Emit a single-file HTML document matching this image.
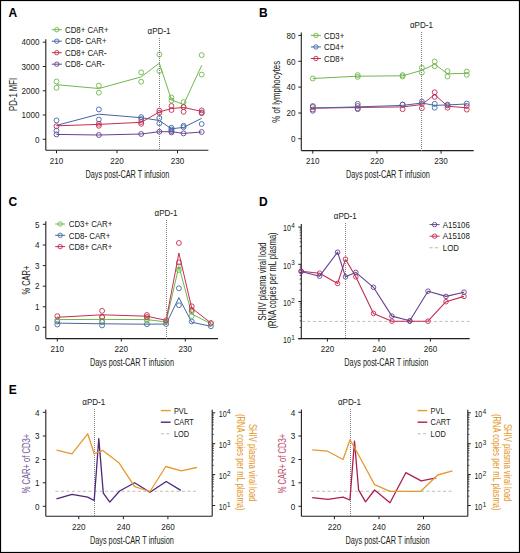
<!DOCTYPE html>
<html><head><meta charset="utf-8"><style>
html,body{margin:0;padding:0;background:#fff;}
svg{display:block;}
text{font-family:"Liberation Sans", sans-serif;}
</style></head><body>
<svg width="520" height="553" viewBox="0 0 520 553">
<rect width="520" height="553" fill="#fff"/>
<rect x="0.5" y="0.5" width="519" height="552" fill="none" stroke="#000" stroke-width="1.2"/>
<text x="8.60" y="17.20" font-size="12" text-anchor="start" fill="#000" stroke="#000" stroke-width="0.04" font-weight="bold" >A</text>
<line x1="45.80" y1="39.30" x2="45.80" y2="150.30" stroke="#231f20" stroke-width="1.1" />
<line x1="45.80" y1="150.30" x2="208.40" y2="150.30" stroke="#231f20" stroke-width="1.1" />
<line x1="42.80" y1="42.20" x2="45.80" y2="42.20" stroke="#231f20" stroke-width="1.0" />
<text x="39.50" y="45.40" font-size="9.3" text-anchor="end" fill="#231f20" stroke="#231f20" stroke-width="0.04" font-weight="normal" textLength="18.0" lengthAdjust="spacingAndGlyphs" >4000</text>
<line x1="42.80" y1="66.50" x2="45.80" y2="66.50" stroke="#231f20" stroke-width="1.0" />
<text x="39.50" y="69.70" font-size="9.3" text-anchor="end" fill="#231f20" stroke="#231f20" stroke-width="0.04" font-weight="normal" textLength="18.0" lengthAdjust="spacingAndGlyphs" >3000</text>
<line x1="42.80" y1="90.80" x2="45.80" y2="90.80" stroke="#231f20" stroke-width="1.0" />
<text x="39.50" y="94.00" font-size="9.3" text-anchor="end" fill="#231f20" stroke="#231f20" stroke-width="0.04" font-weight="normal" textLength="18.0" lengthAdjust="spacingAndGlyphs" >2000</text>
<line x1="42.80" y1="115.00" x2="45.80" y2="115.00" stroke="#231f20" stroke-width="1.0" />
<text x="39.50" y="118.20" font-size="9.3" text-anchor="end" fill="#231f20" stroke="#231f20" stroke-width="0.04" font-weight="normal" textLength="18.0" lengthAdjust="spacingAndGlyphs" >1000</text>
<line x1="42.80" y1="139.30" x2="45.80" y2="139.30" stroke="#231f20" stroke-width="1.0" />
<text x="39.50" y="142.50" font-size="9.3" text-anchor="end" fill="#231f20" stroke="#231f20" stroke-width="0.04" font-weight="normal" textLength="4.5" lengthAdjust="spacingAndGlyphs" >0</text>
<line x1="56.50" y1="150.30" x2="56.50" y2="153.30" stroke="#231f20" stroke-width="1.0" />
<text x="56.50" y="163.60" font-size="9.3" text-anchor="middle" fill="#231f20" stroke="#231f20" stroke-width="0.04" font-weight="normal" textLength="13.5" lengthAdjust="spacingAndGlyphs" >210</text>
<line x1="117.00" y1="150.30" x2="117.00" y2="153.30" stroke="#231f20" stroke-width="1.0" />
<text x="117.00" y="163.60" font-size="9.3" text-anchor="middle" fill="#231f20" stroke="#231f20" stroke-width="0.04" font-weight="normal" textLength="13.5" lengthAdjust="spacingAndGlyphs" >220</text>
<line x1="177.50" y1="150.30" x2="177.50" y2="153.30" stroke="#231f20" stroke-width="1.0" />
<text x="177.50" y="163.60" font-size="9.3" text-anchor="middle" fill="#231f20" stroke="#231f20" stroke-width="0.04" font-weight="normal" textLength="13.5" lengthAdjust="spacingAndGlyphs" >230</text>
<text x="127.40" y="177.80" font-size="10.8" text-anchor="middle" fill="#231f20" stroke="#231f20" stroke-width="0.04" font-weight="normal" textLength="84" lengthAdjust="spacingAndGlyphs" >Days post-CAR T infusion</text>
<text transform="translate(16.80,94.40) rotate(-90)" x="0" y="0" font-size="10.8" text-anchor="middle" fill="#231f20" stroke="#231f20" stroke-width="0.04" textLength="33" lengthAdjust="spacingAndGlyphs">PD-1 MFI</text>
<text x="159.10" y="34.20" font-size="9" text-anchor="middle" fill="#231f20" stroke="#231f20" stroke-width="0.04" font-weight="normal" textLength="22.96" lengthAdjust="spacingAndGlyphs" >αPD-1</text>
<polyline points="56.50,134.40 98.85,135.00 141.20,134.00 159.35,131.70 171.45,131.70 183.55,133.40 201.70,132.00" fill="none" stroke="#65428f" stroke-width="1.0" stroke-linejoin="round"/>
<circle cx="56.50" cy="134.40" r="2.45" fill="none" stroke="#65428f" stroke-width="0.9"/>
<circle cx="98.85" cy="135.00" r="2.45" fill="none" stroke="#65428f" stroke-width="0.9"/>
<circle cx="141.20" cy="134.00" r="2.45" fill="none" stroke="#65428f" stroke-width="0.9"/>
<circle cx="159.35" cy="131.70" r="2.45" fill="none" stroke="#65428f" stroke-width="0.9"/>
<circle cx="171.45" cy="131.00" r="2.45" fill="none" stroke="#65428f" stroke-width="0.9"/>
<circle cx="171.45" cy="132.40" r="2.45" fill="none" stroke="#65428f" stroke-width="0.9"/>
<circle cx="183.55" cy="133.40" r="2.45" fill="none" stroke="#65428f" stroke-width="0.9"/>
<circle cx="201.70" cy="132.00" r="2.45" fill="none" stroke="#65428f" stroke-width="0.9"/>
<polyline points="56.50,125.40 98.85,114.20 141.20,117.70 159.35,120.50 171.45,128.80 183.55,127.40 201.70,118.30" fill="none" stroke="#4366a6" stroke-width="1.0" stroke-linejoin="round"/>
<circle cx="56.50" cy="120.40" r="2.45" fill="none" stroke="#4366a6" stroke-width="0.9"/>
<circle cx="56.50" cy="130.60" r="2.45" fill="none" stroke="#4366a6" stroke-width="0.9"/>
<circle cx="98.85" cy="109.40" r="2.45" fill="none" stroke="#4366a6" stroke-width="0.9"/>
<circle cx="98.85" cy="119.60" r="2.45" fill="none" stroke="#4366a6" stroke-width="0.9"/>
<circle cx="141.20" cy="117.10" r="2.45" fill="none" stroke="#4366a6" stroke-width="0.9"/>
<circle cx="141.20" cy="119.00" r="2.45" fill="none" stroke="#4366a6" stroke-width="0.9"/>
<circle cx="159.35" cy="118.00" r="2.45" fill="none" stroke="#4366a6" stroke-width="0.9"/>
<circle cx="159.35" cy="123.30" r="2.45" fill="none" stroke="#4366a6" stroke-width="0.9"/>
<circle cx="171.45" cy="127.70" r="2.45" fill="none" stroke="#4366a6" stroke-width="0.9"/>
<circle cx="171.45" cy="129.50" r="2.45" fill="none" stroke="#4366a6" stroke-width="0.9"/>
<circle cx="183.55" cy="125.80" r="2.45" fill="none" stroke="#4366a6" stroke-width="0.9"/>
<circle cx="183.55" cy="127.20" r="2.45" fill="none" stroke="#4366a6" stroke-width="0.9"/>
<circle cx="201.70" cy="112.50" r="2.45" fill="none" stroke="#4366a6" stroke-width="0.9"/>
<circle cx="201.70" cy="124.00" r="2.45" fill="none" stroke="#4366a6" stroke-width="0.9"/>
<polyline points="56.50,84.70 98.85,88.50 141.20,76.90 159.35,63.20 171.45,99.80 183.55,104.60 201.70,65.30" fill="none" stroke="#70b74c" stroke-width="1.0" stroke-linejoin="round"/>
<circle cx="56.50" cy="81.50" r="2.45" fill="none" stroke="#70b74c" stroke-width="0.9"/>
<circle cx="56.50" cy="87.80" r="2.45" fill="none" stroke="#70b74c" stroke-width="0.9"/>
<circle cx="98.85" cy="85.50" r="2.45" fill="none" stroke="#70b74c" stroke-width="0.9"/>
<circle cx="98.85" cy="92.70" r="2.45" fill="none" stroke="#70b74c" stroke-width="0.9"/>
<circle cx="141.20" cy="72.40" r="2.45" fill="none" stroke="#70b74c" stroke-width="0.9"/>
<circle cx="141.20" cy="81.70" r="2.45" fill="none" stroke="#70b74c" stroke-width="0.9"/>
<circle cx="159.35" cy="54.50" r="2.45" fill="none" stroke="#70b74c" stroke-width="0.9"/>
<circle cx="159.35" cy="71.00" r="2.45" fill="none" stroke="#70b74c" stroke-width="0.9"/>
<circle cx="171.45" cy="97.50" r="2.45" fill="none" stroke="#70b74c" stroke-width="0.9"/>
<circle cx="171.45" cy="100.50" r="2.45" fill="none" stroke="#70b74c" stroke-width="0.9"/>
<circle cx="183.55" cy="102.10" r="2.45" fill="none" stroke="#70b74c" stroke-width="0.9"/>
<circle cx="183.55" cy="107.00" r="2.45" fill="none" stroke="#70b74c" stroke-width="0.9"/>
<circle cx="201.70" cy="55.10" r="2.45" fill="none" stroke="#70b74c" stroke-width="0.9"/>
<circle cx="201.70" cy="74.60" r="2.45" fill="none" stroke="#70b74c" stroke-width="0.9"/>
<polyline points="56.50,125.80 98.85,124.40 141.20,122.30 159.35,112.00 171.45,108.50 183.55,107.50 201.70,111.40" fill="none" stroke="#c52d52" stroke-width="1.0" stroke-linejoin="round"/>
<circle cx="56.50" cy="126.20" r="2.45" fill="none" stroke="#c52d52" stroke-width="0.9"/>
<circle cx="98.85" cy="123.80" r="2.45" fill="none" stroke="#c52d52" stroke-width="0.9"/>
<circle cx="98.85" cy="125.80" r="2.45" fill="none" stroke="#c52d52" stroke-width="0.9"/>
<circle cx="141.20" cy="121.90" r="2.45" fill="none" stroke="#c52d52" stroke-width="0.9"/>
<circle cx="141.20" cy="123.80" r="2.45" fill="none" stroke="#c52d52" stroke-width="0.9"/>
<circle cx="159.35" cy="110.60" r="2.45" fill="none" stroke="#c52d52" stroke-width="0.9"/>
<circle cx="159.35" cy="112.80" r="2.45" fill="none" stroke="#c52d52" stroke-width="0.9"/>
<circle cx="171.45" cy="106.00" r="2.45" fill="none" stroke="#c52d52" stroke-width="0.9"/>
<circle cx="171.45" cy="110.00" r="2.45" fill="none" stroke="#c52d52" stroke-width="0.9"/>
<circle cx="183.55" cy="107.00" r="2.45" fill="none" stroke="#c52d52" stroke-width="0.9"/>
<circle cx="183.55" cy="111.80" r="2.45" fill="none" stroke="#c52d52" stroke-width="0.9"/>
<circle cx="201.70" cy="110.40" r="2.45" fill="none" stroke="#c52d52" stroke-width="0.9"/>
<circle cx="201.70" cy="113.20" r="2.45" fill="none" stroke="#c52d52" stroke-width="0.9"/>
<line x1="51.80" y1="29.70" x2="61.80" y2="29.70" stroke="#70b74c" stroke-width="1.0" />
<circle cx="56.80" cy="29.70" r="2.2" fill="none" stroke="#70b74c" stroke-width="0.9"/>
<text x="65.00" y="32.90" font-size="9.0" text-anchor="start" fill="#231f20" stroke="#231f20" stroke-width="0.04" font-weight="normal" textLength="43.52" lengthAdjust="spacingAndGlyphs" >CD8+ CAR+</text>
<line x1="51.80" y1="41.20" x2="61.80" y2="41.20" stroke="#4366a6" stroke-width="1.0" />
<circle cx="56.80" cy="41.20" r="2.2" fill="none" stroke="#4366a6" stroke-width="0.9"/>
<text x="65.00" y="44.40" font-size="9.0" text-anchor="start" fill="#231f20" stroke="#231f20" stroke-width="0.04" font-weight="normal" textLength="41.55" lengthAdjust="spacingAndGlyphs" >CD8- CAR+</text>
<line x1="51.80" y1="52.70" x2="61.80" y2="52.70" stroke="#c52d52" stroke-width="1.0" />
<circle cx="56.80" cy="52.70" r="2.2" fill="none" stroke="#c52d52" stroke-width="0.9"/>
<text x="65.00" y="55.90" font-size="9.0" text-anchor="start" fill="#231f20" stroke="#231f20" stroke-width="0.04" font-weight="normal" textLength="41.55" lengthAdjust="spacingAndGlyphs" >CD8+ CAR-</text>
<line x1="51.80" y1="64.20" x2="61.80" y2="64.20" stroke="#65428f" stroke-width="1.0" />
<circle cx="56.80" cy="64.20" r="2.2" fill="none" stroke="#65428f" stroke-width="0.9"/>
<text x="65.00" y="67.40" font-size="9.0" text-anchor="start" fill="#231f20" stroke="#231f20" stroke-width="0.04" font-weight="normal" textLength="39.59" lengthAdjust="spacingAndGlyphs" >CD8- CAR-</text>
<text x="259.00" y="17.20" font-size="12" text-anchor="start" fill="#000" stroke="#000" stroke-width="0.04" font-weight="bold" >B</text>
<line x1="301.30" y1="32.50" x2="301.30" y2="150.60" stroke="#231f20" stroke-width="1.1" />
<line x1="301.30" y1="150.60" x2="473.70" y2="150.60" stroke="#231f20" stroke-width="1.1" />
<line x1="298.30" y1="35.40" x2="301.30" y2="35.40" stroke="#231f20" stroke-width="1.0" />
<text x="295.40" y="38.60" font-size="9.3" text-anchor="end" fill="#231f20" stroke="#231f20" stroke-width="0.04" font-weight="normal" textLength="9.0" lengthAdjust="spacingAndGlyphs" >80</text>
<line x1="298.30" y1="61.30" x2="301.30" y2="61.30" stroke="#231f20" stroke-width="1.0" />
<text x="295.40" y="64.50" font-size="9.3" text-anchor="end" fill="#231f20" stroke="#231f20" stroke-width="0.04" font-weight="normal" textLength="9.0" lengthAdjust="spacingAndGlyphs" >60</text>
<line x1="298.30" y1="87.10" x2="301.30" y2="87.10" stroke="#231f20" stroke-width="1.0" />
<text x="295.40" y="90.30" font-size="9.3" text-anchor="end" fill="#231f20" stroke="#231f20" stroke-width="0.04" font-weight="normal" textLength="9.0" lengthAdjust="spacingAndGlyphs" >40</text>
<line x1="298.30" y1="113.00" x2="301.30" y2="113.00" stroke="#231f20" stroke-width="1.0" />
<text x="295.40" y="116.20" font-size="9.3" text-anchor="end" fill="#231f20" stroke="#231f20" stroke-width="0.04" font-weight="normal" textLength="9.0" lengthAdjust="spacingAndGlyphs" >20</text>
<line x1="298.30" y1="138.75" x2="301.30" y2="138.75" stroke="#231f20" stroke-width="1.0" />
<text x="295.40" y="141.95" font-size="9.3" text-anchor="end" fill="#231f20" stroke="#231f20" stroke-width="0.04" font-weight="normal" textLength="4.5" lengthAdjust="spacingAndGlyphs" >0</text>
<line x1="312.80" y1="150.60" x2="312.80" y2="153.60" stroke="#231f20" stroke-width="1.0" />
<text x="312.80" y="163.90" font-size="9.3" text-anchor="middle" fill="#231f20" stroke="#231f20" stroke-width="0.04" font-weight="normal" textLength="13.5" lengthAdjust="spacingAndGlyphs" >210</text>
<line x1="377.00" y1="150.60" x2="377.00" y2="153.60" stroke="#231f20" stroke-width="1.0" />
<text x="377.00" y="163.90" font-size="9.3" text-anchor="middle" fill="#231f20" stroke="#231f20" stroke-width="0.04" font-weight="normal" textLength="13.5" lengthAdjust="spacingAndGlyphs" >220</text>
<line x1="441.10" y1="150.60" x2="441.10" y2="153.60" stroke="#231f20" stroke-width="1.0" />
<text x="441.10" y="163.90" font-size="9.3" text-anchor="middle" fill="#231f20" stroke="#231f20" stroke-width="0.04" font-weight="normal" textLength="13.5" lengthAdjust="spacingAndGlyphs" >230</text>
<text x="387.90" y="177.80" font-size="10.8" text-anchor="middle" fill="#231f20" stroke="#231f20" stroke-width="0.04" font-weight="normal" textLength="84" lengthAdjust="spacingAndGlyphs" >Days post-CAR T infusion</text>
<text transform="translate(279.90,91.80) rotate(-90)" x="0" y="0" font-size="10.8" text-anchor="middle" fill="#231f20" stroke="#231f20" stroke-width="0.04" textLength="62" lengthAdjust="spacingAndGlyphs">% of lymphocytes</text>
<text x="421.40" y="27.70" font-size="9" text-anchor="middle" fill="#231f20" stroke="#231f20" stroke-width="0.04" font-weight="normal" textLength="22.96" lengthAdjust="spacingAndGlyphs" >αPD-1</text>
<polyline points="312.80,108.20 357.71,107.50 402.61,106.90 421.86,104.50 434.69,94.60 447.51,106.20 466.76,107.80" fill="none" stroke="#c52d52" stroke-width="1.0" stroke-linejoin="round"/>
<circle cx="312.80" cy="107.00" r="2.45" fill="none" stroke="#c52d52" stroke-width="0.9"/>
<circle cx="312.80" cy="109.50" r="2.45" fill="none" stroke="#c52d52" stroke-width="0.9"/>
<circle cx="357.71" cy="106.00" r="2.45" fill="none" stroke="#c52d52" stroke-width="0.9"/>
<circle cx="357.71" cy="108.50" r="2.45" fill="none" stroke="#c52d52" stroke-width="0.9"/>
<circle cx="402.61" cy="109.20" r="2.45" fill="none" stroke="#c52d52" stroke-width="0.9"/>
<circle cx="402.61" cy="104.60" r="2.45" fill="none" stroke="#c52d52" stroke-width="0.9"/>
<circle cx="421.86" cy="103.80" r="2.45" fill="none" stroke="#c52d52" stroke-width="0.9"/>
<circle cx="421.86" cy="108.20" r="2.45" fill="none" stroke="#c52d52" stroke-width="0.9"/>
<circle cx="434.69" cy="92.30" r="2.45" fill="none" stroke="#c52d52" stroke-width="0.9"/>
<circle cx="434.69" cy="96.90" r="2.45" fill="none" stroke="#c52d52" stroke-width="0.9"/>
<circle cx="447.51" cy="105.40" r="2.45" fill="none" stroke="#c52d52" stroke-width="0.9"/>
<circle cx="447.51" cy="107.70" r="2.45" fill="none" stroke="#c52d52" stroke-width="0.9"/>
<circle cx="466.76" cy="109.60" r="2.45" fill="none" stroke="#c52d52" stroke-width="0.9"/>
<circle cx="466.76" cy="106.00" r="2.45" fill="none" stroke="#c52d52" stroke-width="0.9"/>
<polyline points="312.80,108.00 357.71,106.90 402.61,105.40 421.86,103.00 434.69,105.40 447.51,104.90 466.76,104.00" fill="none" stroke="#4366a6" stroke-width="1.0" stroke-linejoin="round"/>
<circle cx="312.80" cy="106.00" r="2.45" fill="none" stroke="#4366a6" stroke-width="0.9"/>
<circle cx="312.80" cy="110.80" r="2.45" fill="none" stroke="#4366a6" stroke-width="0.9"/>
<circle cx="357.71" cy="103.80" r="2.45" fill="none" stroke="#4366a6" stroke-width="0.9"/>
<circle cx="357.71" cy="109.20" r="2.45" fill="none" stroke="#4366a6" stroke-width="0.9"/>
<circle cx="402.61" cy="104.60" r="2.45" fill="none" stroke="#4366a6" stroke-width="0.9"/>
<circle cx="421.86" cy="101.50" r="2.45" fill="none" stroke="#4366a6" stroke-width="0.9"/>
<circle cx="434.69" cy="103.80" r="2.45" fill="none" stroke="#4366a6" stroke-width="0.9"/>
<circle cx="434.69" cy="107.70" r="2.45" fill="none" stroke="#4366a6" stroke-width="0.9"/>
<circle cx="447.51" cy="104.60" r="2.45" fill="none" stroke="#4366a6" stroke-width="0.9"/>
<circle cx="466.76" cy="103.50" r="2.45" fill="none" stroke="#4366a6" stroke-width="0.9"/>
<polyline points="312.80,78.50 357.71,76.20 402.61,75.80 421.86,70.30 434.69,64.20 447.51,73.80 466.76,73.30" fill="none" stroke="#70b74c" stroke-width="1.0" stroke-linejoin="round"/>
<circle cx="312.80" cy="78.50" r="2.45" fill="none" stroke="#70b74c" stroke-width="0.9"/>
<circle cx="357.71" cy="75.10" r="2.45" fill="none" stroke="#70b74c" stroke-width="0.9"/>
<circle cx="357.71" cy="76.90" r="2.45" fill="none" stroke="#70b74c" stroke-width="0.9"/>
<circle cx="402.61" cy="75.10" r="2.45" fill="none" stroke="#70b74c" stroke-width="0.9"/>
<circle cx="402.61" cy="76.50" r="2.45" fill="none" stroke="#70b74c" stroke-width="0.9"/>
<circle cx="421.86" cy="67.70" r="2.45" fill="none" stroke="#70b74c" stroke-width="0.9"/>
<circle cx="421.86" cy="72.60" r="2.45" fill="none" stroke="#70b74c" stroke-width="0.9"/>
<circle cx="434.69" cy="61.50" r="2.45" fill="none" stroke="#70b74c" stroke-width="0.9"/>
<circle cx="434.69" cy="66.20" r="2.45" fill="none" stroke="#70b74c" stroke-width="0.9"/>
<circle cx="447.51" cy="71.10" r="2.45" fill="none" stroke="#70b74c" stroke-width="0.9"/>
<circle cx="447.51" cy="76.50" r="2.45" fill="none" stroke="#70b74c" stroke-width="0.9"/>
<circle cx="466.76" cy="71.50" r="2.45" fill="none" stroke="#70b74c" stroke-width="0.9"/>
<circle cx="466.76" cy="74.80" r="2.45" fill="none" stroke="#70b74c" stroke-width="0.9"/>
<line x1="310.90" y1="35.40" x2="320.90" y2="35.40" stroke="#70b74c" stroke-width="1.0" />
<circle cx="315.90" cy="35.40" r="2.2" fill="none" stroke="#70b74c" stroke-width="0.9"/>
<text x="324.00" y="38.60" font-size="9.0" text-anchor="start" fill="#231f20" stroke="#231f20" stroke-width="0.04" font-weight="normal" textLength="20.24" lengthAdjust="spacingAndGlyphs" >CD3+</text>
<line x1="310.90" y1="46.95" x2="320.90" y2="46.95" stroke="#4366a6" stroke-width="1.0" />
<circle cx="315.90" cy="46.95" r="2.2" fill="none" stroke="#4366a6" stroke-width="0.9"/>
<text x="324.00" y="50.15" font-size="9.0" text-anchor="start" fill="#231f20" stroke="#231f20" stroke-width="0.04" font-weight="normal" textLength="20.24" lengthAdjust="spacingAndGlyphs" >CD4+</text>
<line x1="310.90" y1="58.50" x2="320.90" y2="58.50" stroke="#c52d52" stroke-width="1.0" />
<circle cx="315.90" cy="58.50" r="2.2" fill="none" stroke="#c52d52" stroke-width="0.9"/>
<text x="324.00" y="61.70" font-size="9.0" text-anchor="start" fill="#231f20" stroke="#231f20" stroke-width="0.04" font-weight="normal" textLength="20.24" lengthAdjust="spacingAndGlyphs" >CD8+</text>
<text x="8.60" y="206.30" font-size="12" text-anchor="start" fill="#000" stroke="#000" stroke-width="0.04" font-weight="bold" >C</text>
<line x1="45.80" y1="221.25" x2="45.80" y2="338.60" stroke="#231f20" stroke-width="1.1" />
<line x1="45.80" y1="338.60" x2="218.00" y2="338.60" stroke="#231f20" stroke-width="1.1" />
<line x1="42.80" y1="224.30" x2="45.80" y2="224.30" stroke="#231f20" stroke-width="1.0" />
<text x="39.50" y="227.50" font-size="9.3" text-anchor="end" fill="#231f20" stroke="#231f20" stroke-width="0.04" font-weight="normal" textLength="4.5" lengthAdjust="spacingAndGlyphs" >5</text>
<line x1="42.80" y1="245.00" x2="45.80" y2="245.00" stroke="#231f20" stroke-width="1.0" />
<text x="39.50" y="248.20" font-size="9.3" text-anchor="end" fill="#231f20" stroke="#231f20" stroke-width="0.04" font-weight="normal" textLength="4.5" lengthAdjust="spacingAndGlyphs" >4</text>
<line x1="42.80" y1="265.60" x2="45.80" y2="265.60" stroke="#231f20" stroke-width="1.0" />
<text x="39.50" y="268.80" font-size="9.3" text-anchor="end" fill="#231f20" stroke="#231f20" stroke-width="0.04" font-weight="normal" textLength="4.5" lengthAdjust="spacingAndGlyphs" >3</text>
<line x1="42.80" y1="286.20" x2="45.80" y2="286.20" stroke="#231f20" stroke-width="1.0" />
<text x="39.50" y="289.40" font-size="9.3" text-anchor="end" fill="#231f20" stroke="#231f20" stroke-width="0.04" font-weight="normal" textLength="4.5" lengthAdjust="spacingAndGlyphs" >2</text>
<line x1="42.80" y1="306.80" x2="45.80" y2="306.80" stroke="#231f20" stroke-width="1.0" />
<text x="39.50" y="310.00" font-size="9.3" text-anchor="end" fill="#231f20" stroke="#231f20" stroke-width="0.04" font-weight="normal" textLength="4.5" lengthAdjust="spacingAndGlyphs" >1</text>
<line x1="42.80" y1="327.30" x2="45.80" y2="327.30" stroke="#231f20" stroke-width="1.0" />
<text x="39.50" y="330.50" font-size="9.3" text-anchor="end" fill="#231f20" stroke="#231f20" stroke-width="0.04" font-weight="normal" textLength="4.5" lengthAdjust="spacingAndGlyphs" >0</text>
<line x1="57.30" y1="338.60" x2="57.30" y2="341.60" stroke="#231f20" stroke-width="1.0" />
<text x="57.30" y="351.80" font-size="9.3" text-anchor="middle" fill="#231f20" stroke="#231f20" stroke-width="0.04" font-weight="normal" textLength="13.5" lengthAdjust="spacingAndGlyphs" >210</text>
<line x1="121.30" y1="338.60" x2="121.30" y2="341.60" stroke="#231f20" stroke-width="1.0" />
<text x="121.30" y="351.80" font-size="9.3" text-anchor="middle" fill="#231f20" stroke="#231f20" stroke-width="0.04" font-weight="normal" textLength="13.5" lengthAdjust="spacingAndGlyphs" >220</text>
<line x1="185.30" y1="338.60" x2="185.30" y2="341.60" stroke="#231f20" stroke-width="1.0" />
<text x="185.30" y="351.80" font-size="9.3" text-anchor="middle" fill="#231f20" stroke="#231f20" stroke-width="0.04" font-weight="normal" textLength="13.5" lengthAdjust="spacingAndGlyphs" >230</text>
<text x="132.00" y="365.50" font-size="10.8" text-anchor="middle" fill="#231f20" stroke="#231f20" stroke-width="0.04" font-weight="normal" textLength="84" lengthAdjust="spacingAndGlyphs" >Days post-CAR T infusion</text>
<text transform="translate(30.10,280.10) rotate(-90)" x="0" y="0" font-size="10.8" text-anchor="middle" fill="#231f20" stroke="#231f20" stroke-width="0.04" textLength="29" lengthAdjust="spacingAndGlyphs">% CAR+</text>
<text x="166.00" y="216.20" font-size="9" text-anchor="middle" fill="#231f20" stroke="#231f20" stroke-width="0.04" font-weight="normal" textLength="22.96" lengthAdjust="spacingAndGlyphs" >αPD-1</text>
<polyline points="57.30,323.10 102.10,323.80 146.90,324.20 166.10,324.00 178.90,297.60 191.70,322.20 210.90,326.30" fill="none" stroke="#4366a6" stroke-width="1.0" stroke-linejoin="round"/>
<circle cx="57.30" cy="321.50" r="2.45" fill="none" stroke="#4366a6" stroke-width="0.9"/>
<circle cx="57.30" cy="324.50" r="2.45" fill="none" stroke="#4366a6" stroke-width="0.9"/>
<circle cx="102.10" cy="321.90" r="2.45" fill="none" stroke="#4366a6" stroke-width="0.9"/>
<circle cx="102.10" cy="325.40" r="2.45" fill="none" stroke="#4366a6" stroke-width="0.9"/>
<circle cx="146.90" cy="324.20" r="2.45" fill="none" stroke="#4366a6" stroke-width="0.9"/>
<circle cx="166.10" cy="324.00" r="2.45" fill="none" stroke="#4366a6" stroke-width="0.9"/>
<circle cx="178.90" cy="288.30" r="2.45" fill="none" stroke="#4366a6" stroke-width="0.9"/>
<circle cx="178.90" cy="305.20" r="2.45" fill="none" stroke="#4366a6" stroke-width="0.9"/>
<circle cx="191.70" cy="321.50" r="2.45" fill="none" stroke="#4366a6" stroke-width="0.9"/>
<circle cx="210.90" cy="326.30" r="2.45" fill="none" stroke="#4366a6" stroke-width="0.9"/>
<polyline points="57.30,319.60 102.10,319.40 146.90,319.60 166.10,321.90 178.90,266.30 191.70,313.90 210.90,323.70" fill="none" stroke="#70b74c" stroke-width="1.0" stroke-linejoin="round"/>
<circle cx="57.30" cy="319.60" r="2.45" fill="none" stroke="#70b74c" stroke-width="0.9"/>
<circle cx="102.10" cy="317.30" r="2.45" fill="none" stroke="#70b74c" stroke-width="0.9"/>
<circle cx="102.10" cy="320.80" r="2.45" fill="none" stroke="#70b74c" stroke-width="0.9"/>
<circle cx="146.90" cy="319.00" r="2.45" fill="none" stroke="#70b74c" stroke-width="0.9"/>
<circle cx="146.90" cy="320.50" r="2.45" fill="none" stroke="#70b74c" stroke-width="0.9"/>
<circle cx="166.10" cy="321.90" r="2.45" fill="none" stroke="#70b74c" stroke-width="0.9"/>
<circle cx="178.90" cy="266.20" r="2.45" fill="none" stroke="#70b74c" stroke-width="0.9"/>
<circle cx="178.90" cy="270.00" r="2.45" fill="none" stroke="#70b74c" stroke-width="0.9"/>
<circle cx="191.70" cy="311.70" r="2.45" fill="none" stroke="#70b74c" stroke-width="0.9"/>
<circle cx="191.70" cy="316.00" r="2.45" fill="none" stroke="#70b74c" stroke-width="0.9"/>
<circle cx="210.90" cy="323.70" r="2.45" fill="none" stroke="#70b74c" stroke-width="0.9"/>
<polyline points="57.30,317.30 102.10,314.80 146.90,316.20 166.10,320.30 178.90,253.00 191.70,308.00 210.90,323.00" fill="none" stroke="#c52d52" stroke-width="1.0" stroke-linejoin="round"/>
<circle cx="57.30" cy="316.20" r="2.45" fill="none" stroke="#c52d52" stroke-width="0.9"/>
<circle cx="102.10" cy="310.90" r="2.45" fill="none" stroke="#c52d52" stroke-width="0.9"/>
<circle cx="102.10" cy="317.00" r="2.45" fill="none" stroke="#c52d52" stroke-width="0.9"/>
<circle cx="146.90" cy="315.00" r="2.45" fill="none" stroke="#c52d52" stroke-width="0.9"/>
<circle cx="146.90" cy="317.00" r="2.45" fill="none" stroke="#c52d52" stroke-width="0.9"/>
<circle cx="166.10" cy="320.30" r="2.45" fill="none" stroke="#c52d52" stroke-width="0.9"/>
<circle cx="178.90" cy="243.00" r="2.45" fill="none" stroke="#c52d52" stroke-width="0.9"/>
<circle cx="178.90" cy="262.40" r="2.45" fill="none" stroke="#c52d52" stroke-width="0.9"/>
<circle cx="191.70" cy="306.30" r="2.45" fill="none" stroke="#c52d52" stroke-width="0.9"/>
<circle cx="191.70" cy="310.00" r="2.45" fill="none" stroke="#c52d52" stroke-width="0.9"/>
<circle cx="210.90" cy="323.00" r="2.45" fill="none" stroke="#c52d52" stroke-width="0.9"/>
<line x1="55.20" y1="224.00" x2="65.20" y2="224.00" stroke="#70b74c" stroke-width="1.0" />
<circle cx="60.20" cy="224.00" r="2.2" fill="none" stroke="#70b74c" stroke-width="0.9"/>
<text x="68.80" y="227.20" font-size="9.0" text-anchor="start" fill="#231f20" stroke="#231f20" stroke-width="0.04" font-weight="normal" textLength="43.52" lengthAdjust="spacingAndGlyphs" >CD3+ CAR+</text>
<line x1="55.20" y1="235.30" x2="65.20" y2="235.30" stroke="#4366a6" stroke-width="1.0" />
<circle cx="60.20" cy="235.30" r="2.2" fill="none" stroke="#4366a6" stroke-width="0.9"/>
<text x="68.80" y="238.50" font-size="9.0" text-anchor="start" fill="#231f20" stroke="#231f20" stroke-width="0.04" font-weight="normal" textLength="41.55" lengthAdjust="spacingAndGlyphs" >CD8- CAR+</text>
<line x1="55.20" y1="246.60" x2="65.20" y2="246.60" stroke="#c52d52" stroke-width="1.0" />
<circle cx="60.20" cy="246.60" r="2.2" fill="none" stroke="#c52d52" stroke-width="0.9"/>
<text x="68.80" y="249.80" font-size="9.0" text-anchor="start" fill="#231f20" stroke="#231f20" stroke-width="0.04" font-weight="normal" textLength="43.52" lengthAdjust="spacingAndGlyphs" >CD8+ CAR+</text>
<text x="259.00" y="206.30" font-size="12" text-anchor="start" fill="#000" stroke="#000" stroke-width="0.04" font-weight="bold" >D</text>
<line x1="301.30" y1="224.00" x2="301.30" y2="338.60" stroke="#231f20" stroke-width="1.1" />
<line x1="298.30" y1="338.60" x2="469.70" y2="338.60" stroke="#231f20" stroke-width="1.1" />
<line x1="298.30" y1="227.10" x2="301.30" y2="227.10" stroke="#231f20" stroke-width="1.0" />
<text x="283.00" y="231.30" font-size="9.3" text-anchor="start" fill="#231f20" stroke="#231f20" stroke-width="0.04" font-weight="normal" textLength="7.9" lengthAdjust="spacingAndGlyphs" >10</text>
<text x="291.30" y="228.20" font-size="6.3" text-anchor="start" fill="#231f20" stroke="#231f20" stroke-width="0.04" font-weight="normal" textLength="3.5" lengthAdjust="spacingAndGlyphs" >4</text>
<line x1="299.70" y1="253.10" x2="301.30" y2="253.10" stroke="#231f20" stroke-width="0.8" />
<line x1="299.70" y1="246.55" x2="301.30" y2="246.55" stroke="#231f20" stroke-width="0.8" />
<line x1="299.70" y1="241.90" x2="301.30" y2="241.90" stroke="#231f20" stroke-width="0.8" />
<line x1="299.70" y1="238.30" x2="301.30" y2="238.30" stroke="#231f20" stroke-width="0.8" />
<line x1="299.70" y1="235.35" x2="301.30" y2="235.35" stroke="#231f20" stroke-width="0.8" />
<line x1="299.70" y1="232.86" x2="301.30" y2="232.86" stroke="#231f20" stroke-width="0.8" />
<line x1="299.70" y1="230.71" x2="301.30" y2="230.71" stroke="#231f20" stroke-width="0.8" />
<line x1="299.70" y1="228.80" x2="301.30" y2="228.80" stroke="#231f20" stroke-width="0.8" />
<line x1="298.30" y1="264.30" x2="301.30" y2="264.30" stroke="#231f20" stroke-width="1.0" />
<text x="283.00" y="268.50" font-size="9.3" text-anchor="start" fill="#231f20" stroke="#231f20" stroke-width="0.04" font-weight="normal" textLength="7.9" lengthAdjust="spacingAndGlyphs" >10</text>
<text x="291.30" y="265.40" font-size="6.3" text-anchor="start" fill="#231f20" stroke="#231f20" stroke-width="0.04" font-weight="normal" textLength="3.5" lengthAdjust="spacingAndGlyphs" >3</text>
<line x1="299.70" y1="290.30" x2="301.30" y2="290.30" stroke="#231f20" stroke-width="0.8" />
<line x1="299.70" y1="283.75" x2="301.30" y2="283.75" stroke="#231f20" stroke-width="0.8" />
<line x1="299.70" y1="279.10" x2="301.30" y2="279.10" stroke="#231f20" stroke-width="0.8" />
<line x1="299.70" y1="275.50" x2="301.30" y2="275.50" stroke="#231f20" stroke-width="0.8" />
<line x1="299.70" y1="272.55" x2="301.30" y2="272.55" stroke="#231f20" stroke-width="0.8" />
<line x1="299.70" y1="270.06" x2="301.30" y2="270.06" stroke="#231f20" stroke-width="0.8" />
<line x1="299.70" y1="267.91" x2="301.30" y2="267.91" stroke="#231f20" stroke-width="0.8" />
<line x1="299.70" y1="266.00" x2="301.30" y2="266.00" stroke="#231f20" stroke-width="0.8" />
<line x1="298.30" y1="301.50" x2="301.30" y2="301.50" stroke="#231f20" stroke-width="1.0" />
<text x="283.00" y="305.70" font-size="9.3" text-anchor="start" fill="#231f20" stroke="#231f20" stroke-width="0.04" font-weight="normal" textLength="7.9" lengthAdjust="spacingAndGlyphs" >10</text>
<text x="291.30" y="302.60" font-size="6.3" text-anchor="start" fill="#231f20" stroke="#231f20" stroke-width="0.04" font-weight="normal" textLength="3.5" lengthAdjust="spacingAndGlyphs" >2</text>
<line x1="299.70" y1="327.50" x2="301.30" y2="327.50" stroke="#231f20" stroke-width="0.8" />
<line x1="299.70" y1="320.95" x2="301.30" y2="320.95" stroke="#231f20" stroke-width="0.8" />
<line x1="299.70" y1="316.30" x2="301.30" y2="316.30" stroke="#231f20" stroke-width="0.8" />
<line x1="299.70" y1="312.70" x2="301.30" y2="312.70" stroke="#231f20" stroke-width="0.8" />
<line x1="299.70" y1="309.75" x2="301.30" y2="309.75" stroke="#231f20" stroke-width="0.8" />
<line x1="299.70" y1="307.26" x2="301.30" y2="307.26" stroke="#231f20" stroke-width="0.8" />
<line x1="299.70" y1="305.11" x2="301.30" y2="305.11" stroke="#231f20" stroke-width="0.8" />
<line x1="299.70" y1="303.20" x2="301.30" y2="303.20" stroke="#231f20" stroke-width="0.8" />
<line x1="298.30" y1="338.70" x2="301.30" y2="338.70" stroke="#231f20" stroke-width="1.0" />
<text x="283.00" y="342.90" font-size="9.3" text-anchor="start" fill="#231f20" stroke="#231f20" stroke-width="0.04" font-weight="normal" textLength="7.9" lengthAdjust="spacingAndGlyphs" >10</text>
<text x="291.30" y="339.80" font-size="6.3" text-anchor="start" fill="#231f20" stroke="#231f20" stroke-width="0.04" font-weight="normal" textLength="3.5" lengthAdjust="spacingAndGlyphs" >1</text>
<line x1="327.40" y1="338.60" x2="327.40" y2="341.60" stroke="#231f20" stroke-width="1.0" />
<text x="327.40" y="352.30" font-size="9.3" text-anchor="middle" fill="#231f20" stroke="#231f20" stroke-width="0.04" font-weight="normal" textLength="13.5" lengthAdjust="spacingAndGlyphs" >220</text>
<line x1="378.90" y1="338.60" x2="378.90" y2="341.60" stroke="#231f20" stroke-width="1.0" />
<text x="378.90" y="352.30" font-size="9.3" text-anchor="middle" fill="#231f20" stroke="#231f20" stroke-width="0.04" font-weight="normal" textLength="13.5" lengthAdjust="spacingAndGlyphs" >240</text>
<line x1="430.40" y1="338.60" x2="430.40" y2="341.60" stroke="#231f20" stroke-width="1.0" />
<text x="430.40" y="352.30" font-size="9.3" text-anchor="middle" fill="#231f20" stroke="#231f20" stroke-width="0.04" font-weight="normal" textLength="13.5" lengthAdjust="spacingAndGlyphs" >260</text>
<text x="386.30" y="365.50" font-size="10.8" text-anchor="middle" fill="#231f20" stroke="#231f20" stroke-width="0.04" font-weight="normal" textLength="84" lengthAdjust="spacingAndGlyphs" >Days post-CAR T infusion</text>
<text transform="translate(265.90,281.40) rotate(-90)" x="0" y="0" font-size="10.8" text-anchor="middle" fill="#231f20" stroke="#231f20" stroke-width="0.04" textLength="78" lengthAdjust="spacingAndGlyphs">SHIV plasma viral load</text>
<text transform="translate(276.20,280.40) rotate(-90)" x="0" y="0" font-size="10.8" text-anchor="middle" fill="#231f20" stroke="#231f20" stroke-width="0.04" textLength="96" lengthAdjust="spacingAndGlyphs">(RNA copies per mL plasma)</text>
<text x="345.30" y="219.30" font-size="9" text-anchor="middle" fill="#231f20" stroke="#231f20" stroke-width="0.04" font-weight="normal" textLength="22.96" lengthAdjust="spacingAndGlyphs" >αPD-1</text>
<line x1="301.80" y1="321.40" x2="469.70" y2="321.40" stroke="#bdbdbd" stroke-width="1.0" stroke-dasharray="3.1,2.4"/>
<polyline points="301.20,271.20 319.60,273.20 337.60,283.50 345.50,259.20 355.80,276.80 373.50,313.40 391.90,321.20 409.80,321.20 428.00,321.20 446.00,301.70 464.00,296.40" fill="none" stroke="#c52d52" stroke-width="1.1" stroke-linejoin="round"/>
<circle cx="301.20" cy="271.20" r="2.3" fill="none" stroke="#c52d52" stroke-width="0.9"/>
<circle cx="319.60" cy="273.20" r="2.3" fill="none" stroke="#c52d52" stroke-width="0.9"/>
<circle cx="337.60" cy="283.50" r="2.3" fill="none" stroke="#c52d52" stroke-width="0.9"/>
<circle cx="345.50" cy="259.20" r="2.3" fill="none" stroke="#c52d52" stroke-width="0.9"/>
<circle cx="355.80" cy="276.80" r="2.3" fill="none" stroke="#c52d52" stroke-width="0.9"/>
<circle cx="373.50" cy="313.40" r="2.3" fill="none" stroke="#c52d52" stroke-width="0.9"/>
<circle cx="391.90" cy="321.20" r="2.3" fill="none" stroke="#c52d52" stroke-width="0.9"/>
<circle cx="409.80" cy="321.20" r="2.3" fill="none" stroke="#c52d52" stroke-width="0.9"/>
<circle cx="428.00" cy="321.20" r="2.3" fill="none" stroke="#c52d52" stroke-width="0.9"/>
<circle cx="446.00" cy="301.70" r="2.3" fill="none" stroke="#c52d52" stroke-width="0.9"/>
<circle cx="464.00" cy="296.40" r="2.3" fill="none" stroke="#c52d52" stroke-width="0.9"/>
<polyline points="301.20,271.50 319.60,276.20 337.60,252.20 345.50,276.80 355.80,272.40 373.50,287.30 391.90,316.10 409.80,320.80 428.00,291.20 446.00,296.40 464.00,292.20" fill="none" stroke="#65428f" stroke-width="1.1" stroke-linejoin="round"/>
<circle cx="301.20" cy="271.50" r="2.3" fill="none" stroke="#65428f" stroke-width="0.9"/>
<circle cx="319.60" cy="276.20" r="2.3" fill="none" stroke="#65428f" stroke-width="0.9"/>
<circle cx="337.60" cy="252.20" r="2.3" fill="none" stroke="#65428f" stroke-width="0.9"/>
<circle cx="345.50" cy="276.80" r="2.3" fill="none" stroke="#65428f" stroke-width="0.9"/>
<circle cx="355.80" cy="272.40" r="2.3" fill="none" stroke="#65428f" stroke-width="0.9"/>
<circle cx="373.50" cy="287.30" r="2.3" fill="none" stroke="#65428f" stroke-width="0.9"/>
<circle cx="391.90" cy="316.10" r="2.3" fill="none" stroke="#65428f" stroke-width="0.9"/>
<circle cx="409.80" cy="320.80" r="2.3" fill="none" stroke="#65428f" stroke-width="0.9"/>
<circle cx="428.00" cy="291.20" r="2.3" fill="none" stroke="#65428f" stroke-width="0.9"/>
<circle cx="446.00" cy="296.40" r="2.3" fill="none" stroke="#65428f" stroke-width="0.9"/>
<circle cx="464.00" cy="292.20" r="2.3" fill="none" stroke="#65428f" stroke-width="0.9"/>
<line x1="429.60" y1="224.60" x2="439.60" y2="224.60" stroke="#65428f" stroke-width="1.0" />
<circle cx="434.60" cy="224.60" r="2.2" fill="none" stroke="#65428f" stroke-width="0.9"/>
<text x="442.80" y="227.80" font-size="9.0" text-anchor="start" fill="#231f20" stroke="#231f20" stroke-width="0.04" font-weight="normal" textLength="27.0" lengthAdjust="spacingAndGlyphs" >A15106</text>
<line x1="429.60" y1="236.20" x2="439.60" y2="236.20" stroke="#c52d52" stroke-width="1.0" />
<circle cx="434.60" cy="236.20" r="2.2" fill="none" stroke="#c52d52" stroke-width="0.9"/>
<text x="442.80" y="239.40" font-size="9.0" text-anchor="start" fill="#231f20" stroke="#231f20" stroke-width="0.04" font-weight="normal" textLength="27.0" lengthAdjust="spacingAndGlyphs" >A15108</text>
<line x1="429.30" y1="247.80" x2="438.40" y2="247.80" stroke="#bdbdbd" stroke-width="1.1" stroke-dasharray="3.4,2.1"/>
<text x="442.80" y="250.90" font-size="9.0" text-anchor="start" fill="#231f20" stroke="#231f20" stroke-width="0.04" font-weight="normal" textLength="16.1" lengthAdjust="spacingAndGlyphs" >LOD</text>
<text x="8.80" y="393.80" font-size="12" text-anchor="start" fill="#000" stroke="#000" stroke-width="0.04" font-weight="bold" >E</text>
<line x1="45.80" y1="409.60" x2="45.80" y2="516.20" stroke="#231f20" stroke-width="1.1" />
<line x1="45.80" y1="516.20" x2="212.20" y2="516.20" stroke="#231f20" stroke-width="1.1" />
<line x1="212.20" y1="409.70" x2="212.20" y2="516.20" stroke="#231f20" stroke-width="1.1" />
<line x1="42.80" y1="412.30" x2="45.80" y2="412.30" stroke="#231f20" stroke-width="1.0" />
<text x="39.60" y="415.50" font-size="9.3" text-anchor="end" fill="#231f20" stroke="#231f20" stroke-width="0.04" font-weight="normal" textLength="4.5" lengthAdjust="spacingAndGlyphs" >4</text>
<line x1="42.80" y1="436.00" x2="45.80" y2="436.00" stroke="#231f20" stroke-width="1.0" />
<text x="39.60" y="439.20" font-size="9.3" text-anchor="end" fill="#231f20" stroke="#231f20" stroke-width="0.04" font-weight="normal" textLength="4.5" lengthAdjust="spacingAndGlyphs" >3</text>
<line x1="42.80" y1="459.50" x2="45.80" y2="459.50" stroke="#231f20" stroke-width="1.0" />
<text x="39.60" y="462.70" font-size="9.3" text-anchor="end" fill="#231f20" stroke="#231f20" stroke-width="0.04" font-weight="normal" textLength="4.5" lengthAdjust="spacingAndGlyphs" >2</text>
<line x1="42.80" y1="482.80" x2="45.80" y2="482.80" stroke="#231f20" stroke-width="1.0" />
<text x="39.60" y="486.00" font-size="9.3" text-anchor="end" fill="#231f20" stroke="#231f20" stroke-width="0.04" font-weight="normal" textLength="4.5" lengthAdjust="spacingAndGlyphs" >1</text>
<line x1="42.80" y1="506.30" x2="45.80" y2="506.30" stroke="#231f20" stroke-width="1.0" />
<text x="39.60" y="509.50" font-size="9.3" text-anchor="end" fill="#231f20" stroke="#231f20" stroke-width="0.04" font-weight="normal" textLength="4.5" lengthAdjust="spacingAndGlyphs" >0</text>
<line x1="212.20" y1="412.80" x2="215.20" y2="412.80" stroke="#231f20" stroke-width="1.0" />
<text x="218.80" y="417.00" font-size="9.3" text-anchor="start" fill="#231f20" stroke="#231f20" stroke-width="0.04" font-weight="normal" textLength="7.9" lengthAdjust="spacingAndGlyphs" >10</text>
<text x="227.10" y="413.90" font-size="6.3" text-anchor="start" fill="#231f20" stroke="#231f20" stroke-width="0.04" font-weight="normal" textLength="3.5" lengthAdjust="spacingAndGlyphs" >4</text>
<line x1="212.20" y1="434.40" x2="213.80" y2="434.40" stroke="#231f20" stroke-width="0.8" />
<line x1="212.20" y1="428.96" x2="213.80" y2="428.96" stroke="#231f20" stroke-width="0.8" />
<line x1="212.20" y1="425.10" x2="213.80" y2="425.10" stroke="#231f20" stroke-width="0.8" />
<line x1="212.20" y1="422.10" x2="213.80" y2="422.10" stroke="#231f20" stroke-width="0.8" />
<line x1="212.20" y1="419.66" x2="213.80" y2="419.66" stroke="#231f20" stroke-width="0.8" />
<line x1="212.20" y1="417.59" x2="213.80" y2="417.59" stroke="#231f20" stroke-width="0.8" />
<line x1="212.20" y1="415.79" x2="213.80" y2="415.79" stroke="#231f20" stroke-width="0.8" />
<line x1="212.20" y1="414.21" x2="213.80" y2="414.21" stroke="#231f20" stroke-width="0.8" />
<line x1="212.20" y1="443.70" x2="215.20" y2="443.70" stroke="#231f20" stroke-width="1.0" />
<text x="218.80" y="447.90" font-size="9.3" text-anchor="start" fill="#231f20" stroke="#231f20" stroke-width="0.04" font-weight="normal" textLength="7.9" lengthAdjust="spacingAndGlyphs" >10</text>
<text x="227.10" y="444.80" font-size="6.3" text-anchor="start" fill="#231f20" stroke="#231f20" stroke-width="0.04" font-weight="normal" textLength="3.5" lengthAdjust="spacingAndGlyphs" >3</text>
<line x1="212.20" y1="465.30" x2="213.80" y2="465.30" stroke="#231f20" stroke-width="0.8" />
<line x1="212.20" y1="459.86" x2="213.80" y2="459.86" stroke="#231f20" stroke-width="0.8" />
<line x1="212.20" y1="456.00" x2="213.80" y2="456.00" stroke="#231f20" stroke-width="0.8" />
<line x1="212.20" y1="453.00" x2="213.80" y2="453.00" stroke="#231f20" stroke-width="0.8" />
<line x1="212.20" y1="450.56" x2="213.80" y2="450.56" stroke="#231f20" stroke-width="0.8" />
<line x1="212.20" y1="448.49" x2="213.80" y2="448.49" stroke="#231f20" stroke-width="0.8" />
<line x1="212.20" y1="446.69" x2="213.80" y2="446.69" stroke="#231f20" stroke-width="0.8" />
<line x1="212.20" y1="445.11" x2="213.80" y2="445.11" stroke="#231f20" stroke-width="0.8" />
<line x1="212.20" y1="474.60" x2="215.20" y2="474.60" stroke="#231f20" stroke-width="1.0" />
<text x="218.80" y="478.80" font-size="9.3" text-anchor="start" fill="#231f20" stroke="#231f20" stroke-width="0.04" font-weight="normal" textLength="7.9" lengthAdjust="spacingAndGlyphs" >10</text>
<text x="227.10" y="475.70" font-size="6.3" text-anchor="start" fill="#231f20" stroke="#231f20" stroke-width="0.04" font-weight="normal" textLength="3.5" lengthAdjust="spacingAndGlyphs" >2</text>
<line x1="212.20" y1="496.20" x2="213.80" y2="496.20" stroke="#231f20" stroke-width="0.8" />
<line x1="212.20" y1="490.76" x2="213.80" y2="490.76" stroke="#231f20" stroke-width="0.8" />
<line x1="212.20" y1="486.90" x2="213.80" y2="486.90" stroke="#231f20" stroke-width="0.8" />
<line x1="212.20" y1="483.90" x2="213.80" y2="483.90" stroke="#231f20" stroke-width="0.8" />
<line x1="212.20" y1="481.46" x2="213.80" y2="481.46" stroke="#231f20" stroke-width="0.8" />
<line x1="212.20" y1="479.39" x2="213.80" y2="479.39" stroke="#231f20" stroke-width="0.8" />
<line x1="212.20" y1="477.59" x2="213.80" y2="477.59" stroke="#231f20" stroke-width="0.8" />
<line x1="212.20" y1="476.01" x2="213.80" y2="476.01" stroke="#231f20" stroke-width="0.8" />
<line x1="212.20" y1="505.50" x2="215.20" y2="505.50" stroke="#231f20" stroke-width="1.0" />
<text x="218.80" y="509.70" font-size="9.3" text-anchor="start" fill="#231f20" stroke="#231f20" stroke-width="0.04" font-weight="normal" textLength="7.9" lengthAdjust="spacingAndGlyphs" >10</text>
<text x="227.10" y="506.60" font-size="6.3" text-anchor="start" fill="#231f20" stroke="#231f20" stroke-width="0.04" font-weight="normal" textLength="3.5" lengthAdjust="spacingAndGlyphs" >1</text>
<line x1="78.80" y1="516.20" x2="78.80" y2="519.20" stroke="#231f20" stroke-width="1.0" />
<text x="78.80" y="529.90" font-size="9.3" text-anchor="middle" fill="#231f20" stroke="#231f20" stroke-width="0.04" font-weight="normal" textLength="13.5" lengthAdjust="spacingAndGlyphs" >220</text>
<line x1="123.40" y1="516.20" x2="123.40" y2="519.20" stroke="#231f20" stroke-width="1.0" />
<text x="123.40" y="529.90" font-size="9.3" text-anchor="middle" fill="#231f20" stroke="#231f20" stroke-width="0.04" font-weight="normal" textLength="13.5" lengthAdjust="spacingAndGlyphs" >240</text>
<line x1="167.90" y1="516.20" x2="167.90" y2="519.20" stroke="#231f20" stroke-width="1.0" />
<text x="167.90" y="529.90" font-size="9.3" text-anchor="middle" fill="#231f20" stroke="#231f20" stroke-width="0.04" font-weight="normal" textLength="13.5" lengthAdjust="spacingAndGlyphs" >260</text>
<text x="131.90" y="543.80" font-size="10.8" text-anchor="middle" fill="#231f20" stroke="#231f20" stroke-width="0.04" font-weight="normal" textLength="84" lengthAdjust="spacingAndGlyphs" >Days post-CAR T infusion</text>
<text transform="translate(30.10,463.60) rotate(-90)" x="0" y="0" font-size="10.8" text-anchor="middle" fill="#765a9a" stroke="#765a9a" stroke-width="0.05" textLength="59.5" lengthAdjust="spacingAndGlyphs">% CAR+ of CD3+</text>
<text transform="translate(248.60,462.70) rotate(90)" x="0" y="0" font-size="10.8" text-anchor="middle" fill="#e59a2e" stroke="#e59a2e" stroke-width="0.04" textLength="77.6" lengthAdjust="spacingAndGlyphs">SHIV plasma viral load</text>
<text transform="translate(236.90,462.20) rotate(90)" x="0" y="0" font-size="10.8" text-anchor="middle" fill="#e59a2e" stroke="#e59a2e" stroke-width="0.04" textLength="96.4" lengthAdjust="spacingAndGlyphs">(RNA copies per mL plasma)</text>
<line x1="94.5" y1="409" x2="94.5" y2="516.20" stroke="#7c7c7c" stroke-width="1" stroke-dasharray="1,1" shape-rendering="crispEdges"/>
<text x="93.80" y="405.20" font-size="9" text-anchor="middle" fill="#231f20" stroke="#231f20" stroke-width="0.04" font-weight="normal" textLength="22.96" lengthAdjust="spacingAndGlyphs" >αPD-1</text>
<line x1="55.40" y1="491.25" x2="197.50" y2="491.25" stroke="#bdbdbd" stroke-width="1.0" stroke-dasharray="3.1,2.4"/>
<polyline points="56.50,498.90 72.00,494.30 87.70,497.20 94.20,500.50 98.80,438.60 103.30,493.20 109.80,502.10 119.60,491.00 134.60,482.70 150.00,492.30 166.20,481.50 180.80,490.40" fill="none" stroke="#50257a" stroke-width="1.3" stroke-linejoin="round"/>
<polyline points="56.50,450.10 72.00,453.80 87.70,433.80 94.20,453.80 102.80,450.40 119.20,463.10 134.60,486.70 150.00,491.50 165.80,466.50 181.20,470.80 196.90,467.50" fill="none" stroke="#e59a2e" stroke-width="1.3" stroke-linejoin="round"/>
<line x1="160.80" y1="410.60" x2="170.60" y2="410.60" stroke="#e59a2e" stroke-width="1.4" />
<text x="173.90" y="413.80" font-size="9.0" text-anchor="start" fill="#231f20" stroke="#231f20" stroke-width="0.04" font-weight="normal" textLength="13.95" lengthAdjust="spacingAndGlyphs" >PVL</text>
<line x1="160.80" y1="422.20" x2="170.60" y2="422.20" stroke="#50257a" stroke-width="1.4" />
<text x="173.90" y="425.40" font-size="9.0" text-anchor="start" fill="#231f20" stroke="#231f20" stroke-width="0.04" font-weight="normal" textLength="19.96" lengthAdjust="spacingAndGlyphs" >CART</text>
<line x1="160.90" y1="433.70" x2="169.60" y2="433.70" stroke="#bdbdbd" stroke-width="1.1" stroke-dasharray="3.2,2.1"/>
<text x="173.90" y="436.90" font-size="9.0" text-anchor="start" fill="#231f20" stroke="#231f20" stroke-width="0.04" font-weight="normal" textLength="15.17" lengthAdjust="spacingAndGlyphs" >LOD</text>
<line x1="301.40" y1="409.60" x2="301.40" y2="516.20" stroke="#231f20" stroke-width="1.1" />
<line x1="301.40" y1="516.20" x2="467.80" y2="516.20" stroke="#231f20" stroke-width="1.1" />
<line x1="467.80" y1="409.70" x2="467.80" y2="516.20" stroke="#231f20" stroke-width="1.1" />
<line x1="298.40" y1="412.30" x2="301.40" y2="412.30" stroke="#231f20" stroke-width="1.0" />
<text x="295.20" y="415.50" font-size="9.3" text-anchor="end" fill="#231f20" stroke="#231f20" stroke-width="0.04" font-weight="normal" textLength="4.5" lengthAdjust="spacingAndGlyphs" >4</text>
<line x1="298.40" y1="436.00" x2="301.40" y2="436.00" stroke="#231f20" stroke-width="1.0" />
<text x="295.20" y="439.20" font-size="9.3" text-anchor="end" fill="#231f20" stroke="#231f20" stroke-width="0.04" font-weight="normal" textLength="4.5" lengthAdjust="spacingAndGlyphs" >3</text>
<line x1="298.40" y1="459.50" x2="301.40" y2="459.50" stroke="#231f20" stroke-width="1.0" />
<text x="295.20" y="462.70" font-size="9.3" text-anchor="end" fill="#231f20" stroke="#231f20" stroke-width="0.04" font-weight="normal" textLength="4.5" lengthAdjust="spacingAndGlyphs" >2</text>
<line x1="298.40" y1="482.80" x2="301.40" y2="482.80" stroke="#231f20" stroke-width="1.0" />
<text x="295.20" y="486.00" font-size="9.3" text-anchor="end" fill="#231f20" stroke="#231f20" stroke-width="0.04" font-weight="normal" textLength="4.5" lengthAdjust="spacingAndGlyphs" >1</text>
<line x1="298.40" y1="506.30" x2="301.40" y2="506.30" stroke="#231f20" stroke-width="1.0" />
<text x="295.20" y="509.50" font-size="9.3" text-anchor="end" fill="#231f20" stroke="#231f20" stroke-width="0.04" font-weight="normal" textLength="4.5" lengthAdjust="spacingAndGlyphs" >0</text>
<line x1="467.80" y1="412.80" x2="470.80" y2="412.80" stroke="#231f20" stroke-width="1.0" />
<text x="474.40" y="417.00" font-size="9.3" text-anchor="start" fill="#231f20" stroke="#231f20" stroke-width="0.04" font-weight="normal" textLength="7.9" lengthAdjust="spacingAndGlyphs" >10</text>
<text x="482.70" y="413.90" font-size="6.3" text-anchor="start" fill="#231f20" stroke="#231f20" stroke-width="0.04" font-weight="normal" textLength="3.5" lengthAdjust="spacingAndGlyphs" >4</text>
<line x1="467.80" y1="434.40" x2="469.40" y2="434.40" stroke="#231f20" stroke-width="0.8" />
<line x1="467.80" y1="428.96" x2="469.40" y2="428.96" stroke="#231f20" stroke-width="0.8" />
<line x1="467.80" y1="425.10" x2="469.40" y2="425.10" stroke="#231f20" stroke-width="0.8" />
<line x1="467.80" y1="422.10" x2="469.40" y2="422.10" stroke="#231f20" stroke-width="0.8" />
<line x1="467.80" y1="419.66" x2="469.40" y2="419.66" stroke="#231f20" stroke-width="0.8" />
<line x1="467.80" y1="417.59" x2="469.40" y2="417.59" stroke="#231f20" stroke-width="0.8" />
<line x1="467.80" y1="415.79" x2="469.40" y2="415.79" stroke="#231f20" stroke-width="0.8" />
<line x1="467.80" y1="414.21" x2="469.40" y2="414.21" stroke="#231f20" stroke-width="0.8" />
<line x1="467.80" y1="443.70" x2="470.80" y2="443.70" stroke="#231f20" stroke-width="1.0" />
<text x="474.40" y="447.90" font-size="9.3" text-anchor="start" fill="#231f20" stroke="#231f20" stroke-width="0.04" font-weight="normal" textLength="7.9" lengthAdjust="spacingAndGlyphs" >10</text>
<text x="482.70" y="444.80" font-size="6.3" text-anchor="start" fill="#231f20" stroke="#231f20" stroke-width="0.04" font-weight="normal" textLength="3.5" lengthAdjust="spacingAndGlyphs" >3</text>
<line x1="467.80" y1="465.30" x2="469.40" y2="465.30" stroke="#231f20" stroke-width="0.8" />
<line x1="467.80" y1="459.86" x2="469.40" y2="459.86" stroke="#231f20" stroke-width="0.8" />
<line x1="467.80" y1="456.00" x2="469.40" y2="456.00" stroke="#231f20" stroke-width="0.8" />
<line x1="467.80" y1="453.00" x2="469.40" y2="453.00" stroke="#231f20" stroke-width="0.8" />
<line x1="467.80" y1="450.56" x2="469.40" y2="450.56" stroke="#231f20" stroke-width="0.8" />
<line x1="467.80" y1="448.49" x2="469.40" y2="448.49" stroke="#231f20" stroke-width="0.8" />
<line x1="467.80" y1="446.69" x2="469.40" y2="446.69" stroke="#231f20" stroke-width="0.8" />
<line x1="467.80" y1="445.11" x2="469.40" y2="445.11" stroke="#231f20" stroke-width="0.8" />
<line x1="467.80" y1="474.60" x2="470.80" y2="474.60" stroke="#231f20" stroke-width="1.0" />
<text x="474.40" y="478.80" font-size="9.3" text-anchor="start" fill="#231f20" stroke="#231f20" stroke-width="0.04" font-weight="normal" textLength="7.9" lengthAdjust="spacingAndGlyphs" >10</text>
<text x="482.70" y="475.70" font-size="6.3" text-anchor="start" fill="#231f20" stroke="#231f20" stroke-width="0.04" font-weight="normal" textLength="3.5" lengthAdjust="spacingAndGlyphs" >2</text>
<line x1="467.80" y1="496.20" x2="469.40" y2="496.20" stroke="#231f20" stroke-width="0.8" />
<line x1="467.80" y1="490.76" x2="469.40" y2="490.76" stroke="#231f20" stroke-width="0.8" />
<line x1="467.80" y1="486.90" x2="469.40" y2="486.90" stroke="#231f20" stroke-width="0.8" />
<line x1="467.80" y1="483.90" x2="469.40" y2="483.90" stroke="#231f20" stroke-width="0.8" />
<line x1="467.80" y1="481.46" x2="469.40" y2="481.46" stroke="#231f20" stroke-width="0.8" />
<line x1="467.80" y1="479.39" x2="469.40" y2="479.39" stroke="#231f20" stroke-width="0.8" />
<line x1="467.80" y1="477.59" x2="469.40" y2="477.59" stroke="#231f20" stroke-width="0.8" />
<line x1="467.80" y1="476.01" x2="469.40" y2="476.01" stroke="#231f20" stroke-width="0.8" />
<line x1="467.80" y1="505.50" x2="470.80" y2="505.50" stroke="#231f20" stroke-width="1.0" />
<text x="474.40" y="509.70" font-size="9.3" text-anchor="start" fill="#231f20" stroke="#231f20" stroke-width="0.04" font-weight="normal" textLength="7.9" lengthAdjust="spacingAndGlyphs" >10</text>
<text x="482.70" y="506.60" font-size="6.3" text-anchor="start" fill="#231f20" stroke="#231f20" stroke-width="0.04" font-weight="normal" textLength="3.5" lengthAdjust="spacingAndGlyphs" >1</text>
<line x1="334.40" y1="516.20" x2="334.40" y2="519.20" stroke="#231f20" stroke-width="1.0" />
<text x="334.40" y="529.90" font-size="9.3" text-anchor="middle" fill="#231f20" stroke="#231f20" stroke-width="0.04" font-weight="normal" textLength="13.5" lengthAdjust="spacingAndGlyphs" >220</text>
<line x1="379.00" y1="516.20" x2="379.00" y2="519.20" stroke="#231f20" stroke-width="1.0" />
<text x="379.00" y="529.90" font-size="9.3" text-anchor="middle" fill="#231f20" stroke="#231f20" stroke-width="0.04" font-weight="normal" textLength="13.5" lengthAdjust="spacingAndGlyphs" >240</text>
<line x1="423.50" y1="516.20" x2="423.50" y2="519.20" stroke="#231f20" stroke-width="1.0" />
<text x="423.50" y="529.90" font-size="9.3" text-anchor="middle" fill="#231f20" stroke="#231f20" stroke-width="0.04" font-weight="normal" textLength="13.5" lengthAdjust="spacingAndGlyphs" >260</text>
<text x="387.50" y="543.80" font-size="10.8" text-anchor="middle" fill="#231f20" stroke="#231f20" stroke-width="0.04" font-weight="normal" textLength="84" lengthAdjust="spacingAndGlyphs" >Days post-CAR T infusion</text>
<text transform="translate(285.70,463.60) rotate(-90)" x="0" y="0" font-size="10.8" text-anchor="middle" fill="#c24a6c" stroke="#c24a6c" stroke-width="0.05" textLength="59.5" lengthAdjust="spacingAndGlyphs">% CAR+ of CD3+</text>
<text transform="translate(504.20,462.70) rotate(90)" x="0" y="0" font-size="10.8" text-anchor="middle" fill="#e59a2e" stroke="#e59a2e" stroke-width="0.04" textLength="77.6" lengthAdjust="spacingAndGlyphs">SHIV plasma viral load</text>
<text transform="translate(492.50,462.20) rotate(90)" x="0" y="0" font-size="10.8" text-anchor="middle" fill="#e59a2e" stroke="#e59a2e" stroke-width="0.04" textLength="96.4" lengthAdjust="spacingAndGlyphs">(RNA copies per mL plasma)</text>
<line x1="350.5" y1="409" x2="350.5" y2="516.20" stroke="#7c7c7c" stroke-width="1" stroke-dasharray="1,1" shape-rendering="crispEdges"/>
<text x="349.40" y="405.20" font-size="9" text-anchor="middle" fill="#231f20" stroke="#231f20" stroke-width="0.04" font-weight="normal" textLength="22.96" lengthAdjust="spacingAndGlyphs" >αPD-1</text>
<line x1="311.00" y1="491.25" x2="452.50" y2="491.25" stroke="#bdbdbd" stroke-width="1.0" stroke-dasharray="3.1,2.4"/>
<polyline points="312.20,497.60 328.00,499.30 343.00,497.10 349.90,500.00 354.50,441.10 358.60,489.90 365.50,501.80 374.60,490.00 390.00,502.70 405.80,472.70 421.20,480.80 436.20,477.90" fill="none" stroke="#ae1f46" stroke-width="1.3" stroke-linejoin="round"/>
<polyline points="312.20,449.80 327.60,451.20 343.10,459.50 350.00,439.80 358.60,455.00 374.60,484.60 390.00,491.30 405.40,491.30 420.80,491.30 437.70,475.00 452.50,470.80" fill="none" stroke="#e59a2e" stroke-width="1.3" stroke-linejoin="round"/>
<line x1="417.50" y1="410.60" x2="427.30" y2="410.60" stroke="#e59a2e" stroke-width="1.4" />
<text x="430.60" y="413.80" font-size="9.0" text-anchor="start" fill="#231f20" stroke="#231f20" stroke-width="0.04" font-weight="normal" textLength="13.95" lengthAdjust="spacingAndGlyphs" >PVL</text>
<line x1="417.50" y1="422.20" x2="427.30" y2="422.20" stroke="#ae1f46" stroke-width="1.4" />
<text x="430.60" y="425.40" font-size="9.0" text-anchor="start" fill="#231f20" stroke="#231f20" stroke-width="0.04" font-weight="normal" textLength="19.96" lengthAdjust="spacingAndGlyphs" >CART</text>
<line x1="417.60" y1="433.70" x2="426.30" y2="433.70" stroke="#bdbdbd" stroke-width="1.1" stroke-dasharray="3.2,2.1"/>
<text x="430.60" y="436.90" font-size="9.0" text-anchor="start" fill="#231f20" stroke="#231f20" stroke-width="0.04" font-weight="normal" textLength="15.17" lengthAdjust="spacingAndGlyphs" >LOD</text>
<line x1="159.5" y1="38" x2="159.5" y2="150.30" stroke="#7c7c7c" stroke-width="1" stroke-dasharray="1,1" shape-rendering="crispEdges"/>
<line x1="421.5" y1="32" x2="421.5" y2="150.60" stroke="#7c7c7c" stroke-width="1" stroke-dasharray="1,1" shape-rendering="crispEdges"/>
<line x1="166.5" y1="220" x2="166.5" y2="338.60" stroke="#7c7c7c" stroke-width="1" stroke-dasharray="1,1" shape-rendering="crispEdges"/>
<line x1="345.5" y1="223" x2="345.5" y2="338.60" stroke="#7c7c7c" stroke-width="1" stroke-dasharray="1,1" shape-rendering="crispEdges"/>
</svg></body></html>
